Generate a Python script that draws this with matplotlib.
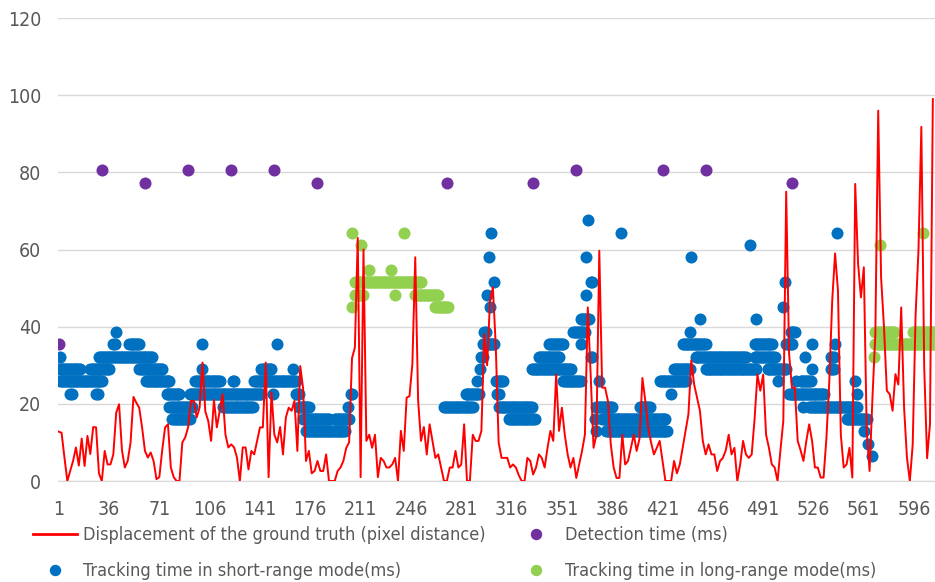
import numpy as np
import matplotlib
matplotlib.use("Agg")
import matplotlib.pyplot as plt
from matplotlib.lines import Line2D
from matplotlib import font_manager

# ---- data ----
# displacement of the ground truth, sampled every 2 frames (1, 3, 5, ... 609)
disp_frames = np.arange(1, 610, 2)
disp_px = [
    12.8, 12.5, 6.1, 0, 2.6, 5.2, 8.7, 4, 11, 3.9,
    11.7, 7, 14, 13.9, 2, 0, 7.8, 4.3, 4.3, 6.9,
    17.7, 19.9, 8, 3.5, 5.2, 10, 21.8, 20.3, 19, 13.9,
    7.8, 6.1, 7.4, 5.2, 0.5, 1, 8, 13.9, 14.7, 3.5,
    1, 0, 0, 10, 11.3, 13.9, 20.8, 20.8, 16.5, 19,
    30.7, 18, 15.6, 10.4, 21, 13.9, 18.2, 22.5, 12, 8.7,
    9.5, 8.7, 6.1, 0, 8.7, 8.7, 3, 7.8, 6.9, 10.4,
    13.9, 13.9, 30.7, 1, 23, 12, 10, 14, 6.9, 16.5,
    19, 18.2, 20.8, 7.8, 29.8, 24, 5.2, 7.8, 2, 2.6,
    5.2, 2.6, 2.6, 6.9, 0, 0, 0, 2.6, 3.5, 5.2,
    8.6, 10, 31.8, 34.6, 63, 1, 60, 10.4, 12, 8.6,
    12, 1, 6, 5.2, 3.5, 3.5, 4.3, 6, 0, 13,
    7.8, 21.6, 22, 30.4, 58, 20.8, 10.4, 14, 6.9, 14.7,
    10.4, 6, 6.9, 3.5, 0, 0, 3.5, 3.5, 7.8, 3.5,
    4.3, 14.7, 0, 0, 12, 10.4, 10.4, 13, 38, 30,
    46.8, 50.2,
    35, 10, 6, 6, 6, 3.5, 4.3, 3.5, 1.5, 0,
    0, 6, 5.2, 1.7, 3.5, 6.9, 6, 3.5, 8.6, 13,
    10.4, 27.6, 13, 19, 12, 6.9, 3.5, 6, 0.8, 4.3,
    7.8, 12, 45, 27.6, 8.6, 12, 59.7, 24.2, 24.2, 20.8,
    9.5, 3.5, 0.8, 0.8, 12, 4.3, 5.2, 8.6, 12, 7.8,
    11, 26.7, 20.8, 14,
    10, 6.9, 8.6, 10.4, 5.2, 0, 0, 0, 5.2, 2,
    4.3, 8.6, 13, 17.3, 31.3, 25, 21.6, 18.2, 10.4, 6.9,
    9.5, 6.9, 6.9, 2.6, 5.2, 6, 8, 12, 6.9, 8.6,
    0, 4.3, 10.4, 6.9, 6, 6.9, 16, 27.6, 23.4, 27.6,
    12, 8.6, 4.3, 3.5, 0, 8, 15.6, 75, 33, 24.2,
    24.2, 10.4,
    8, 5.2, 10.4, 14.7, 10.4, 3.5, 3.5, 0.9, 0.9, 11.3,
    26, 46.7, 59, 49.4, 12, 3.5, 4.3, 8.6, 0.9, 77,
    56.3, 47.6, 55.4, 13, 2.6, 21.6, 38, 96, 52.8, 40,
    23.4, 22.5, 18.2, 27.7, 25, 45, 19, 6, 0, 9.5,
    43, 59.7, 91.8, 29.5, 5.9, 14.7, 99,
]

# detection time (ms)
det_frames = [1, 31, 61, 91, 121, 151, 181, 271, 331, 361, 421, 451, 511]
det_ms = [35.4, 80.5, 77.3, 80.5, 80.5, 80.5, 77.3, 77.3, 77.3, 80.5, 80.5, 80.5, 77.3]

# short-range tracking time: rows of dots (first frame, last frame, ms)
short_start = [2, 1, 23, 2, 9, 27, 29, 39, 41, 50, 57, 62, 76, 78, 80,
               96, 92, 115, 122, 101, 101, 137, 142, 153, 150, 164, 166, 168, 171, 173,
               193, 202, 204,
               269, 284, 292, 294, 295, 296, 297, 299, 300, 301, 302, 304, 305, 306,
               307, 314, 330, 335, 342, 352, 359, 364, 364, 368, 371, 368, 369, 371,
               377, 375, 374, 375, 379, 382, 392, 405,
               419, 427, 429, 435, 440, 447, 441, 444, 451, 482, 486, 485, 485, 494,
               501, 505, 506, 507, 510, 512, 514,
               509, 517, 519, 520, 525, 525, 523, 538, 538, 541, 542, 541, 549, 555,
               556, 561, 564, 567]
short_end = [2, 16, 36, 31, 10, 28, 66, 40, 41, 57, 73, 78, 85, 94, 92,
             113, 142, 136, 123, 101, 101, 166, 149, 153, 150, 164, 168, 175, 189, 200,
             203, 202, 205,
             289, 293, 292, 294, 296, 304, 298, 299, 300, 301, 302, 304, 310, 307,
             330, 332, 357, 349, 352, 364, 367, 364, 370, 368, 372, 368, 369, 372,
             377, 386, 374, 375, 423, 424, 392, 412,
             437, 427, 440, 451, 440, 447, 441, 479, 486, 482, 486, 497, 499, 507,
             501, 505, 506, 511, 513, 512, 514,
             533, 524, 519, 520, 525, 525, 540, 540, 540, 541, 542, 556, 563, 555,
             556, 561, 564, 567]
short_ms = [32.2, 29.0, 29.0, 25.8, 22.5, 22.5, 32.2, 35.4, 38.6, 35.4, 29.0, 25.8, 22.5, 19.3, 16.1,
            25.8, 22.5, 19.3, 25.8, 29.0, 35.4, 25.8, 29.0, 35.4, 22.5, 29.0, 22.5, 19.3, 16.1, 12.9,
            16.1, 19.3, 22.5,
            19.3, 22.5, 25.8, 29.0, 32.2, 35.4, 38.6, 48.3, 58.0, 45.1, 64.4, 51.5, 25.8, 22.5,
            19.3, 16.1, 29.0, 32.2, 35.4, 25.8, 38.6, 35.4, 41.9, 48.3, 51.5, 58.0, 67.6, 32.2,
            25.8, 19.3, 16.1, 12.9, 16.1, 12.9, 64.4, 19.3,
            25.8, 22.5, 29.0, 35.4, 38.6, 41.9, 58.0, 32.2, 29.0, 61.2, 41.9, 35.4, 32.2, 29.0,
            25.8, 45.1, 51.5, 35.4, 38.6, 22.5, 25.8,
            22.5, 25.8, 19.3, 32.2, 35.4, 29.0, 19.3, 32.2, 29.0, 35.4, 64.4, 19.3, 16.1, 25.8,
            22.5, 12.9, 9.7, 6.4]

# long-range tracking time: rows of dots (first frame, last frame, ms)
long_start = [205, 211, 205, 207, 207, 217, 232, 241, 235, 249, 263,
              568, 569, 569, 595, 572, 602]
long_end = [205, 211, 205, 213, 253, 217, 232, 241, 235, 265, 272,
            568, 610, 582, 610, 572, 602]
long_ms = [64.4, 61.2, 45.1, 48.3, 51.5, 54.8, 54.8, 64.4, 48.3, 48.3, 45.1,
           32.2, 35.4, 38.6, 38.6, 61.2, 64.4]

x_ticks = list(range(1, 597, 35))
y_ticks = [0, 20, 40, 60, 80, 100, 120]

RED = "#FF0000"
PURPLE = "#7030A0"
BLUE = "#0070C0"
GREEN = "#92D050"
GREY = "#595959"


def expand(starts, ends, vals):
    xs, ys = [], []
    for s, e, v in zip(starts, ends, vals):
        for f in range(s, e + 1):
            xs.append(f)
            ys.append(v)
    return xs, ys


# narrow face if there is one, else plain DejaVu a bit smaller
names = {f.name for f in font_manager.fontManager.ttflist}
condensed = [f for f in font_manager.fontManager.ttflist
             if f.name == 'DejaVu Sans' and f.stretch == 'condensed']
if 'Liberation Sans Narrow' in names:
    plt.rcParams['font.family'] = ['Liberation Sans Narrow', 'DejaVu Sans']
    fs, lfs = 15, 14
elif condensed:
    plt.rcParams['font.family'] = ['DejaVu Sans']
    plt.rcParams['font.stretch'] = 'condensed'
    fs, lfs = 14, 13
else:
    plt.rcParams['font.family'] = ['Open Sans', 'DejaVu Sans']
    fs, lfs = 13, 12

fig = plt.figure(figsize=(9.35, 5.82), dpi=100)
ax = fig.add_axes([0.062, 0.1735, 0.938, 0.7955])

sx, sy = expand(short_start, short_end, short_ms)
lx, ly = expand(long_start, long_end, long_ms)

dot = 75
ax.scatter(sx, sy, s=dot, color=BLUE, linewidths=0, zorder=2)
ax.scatter(lx, ly, s=dot, color=GREEN, linewidths=0, zorder=2)
ax.scatter(det_frames, det_ms, s=dot, color=PURPLE, linewidths=0, zorder=2)
ax.plot(disp_frames, disp_px, color=RED, lw=1.4, zorder=3)

ax.set_xlim(0.5, 610.5)
ax.set_ylim(0, 120)
ax.set_xticks(x_ticks)
ax.set_xticklabels([str(t) for t in x_ticks])
ax.set_yticks(y_ticks)
ax.grid(axis='y', color='#D9D9D9', lw=1)
ax.set_axisbelow(True)
for side in ['top', 'right', 'left']:
    ax.spines[side].set_visible(False)
ax.spines['bottom'].set_color('#D9D9D9')
ax.tick_params(axis='both', length=0, labelsize=fs, labelcolor=GREY)
ax.tick_params(axis='y', pad=12)
ax.tick_params(axis='x', pad=14)

handles = [
    Line2D([], [], color=RED, lw=2),
    Line2D([], [], ls='', marker='o', ms=7.2, color=BLUE, mec=BLUE),
    Line2D([], [], ls='', marker='o', ms=7.2, color=PURPLE, mec=PURPLE),
    Line2D([], [], ls='', marker='o', ms=7.2, color=GREEN, mec=GREEN),
]
labels = [
    "Displacement of the ground truth (pixel distance)",
    "Tracking time in short-range mode(ms)",
    "Detection time (ms)",
    "Tracking time in long-range mode(ms)",
]
leg = fig.legend(handles, labels, ncol=2, loc='upper left',
                 bbox_to_anchor=(0.035, 0.096), frameon=False, fontsize=lfs,
                 borderpad=0, borderaxespad=0, handlelength=2.45,
                 handletextpad=0.33, columnspacing=1.6, labelspacing=1.0)
for t in leg.get_texts():
    t.set_color(GREY)

fig.savefig("out.png", dpi=100)
